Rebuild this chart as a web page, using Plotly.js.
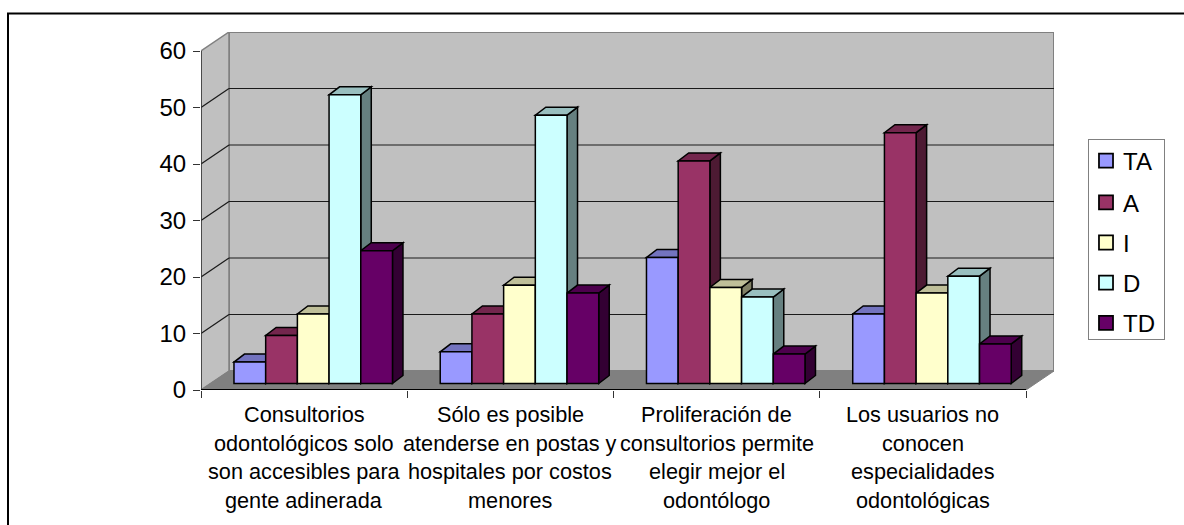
<!DOCTYPE html>
<html>
<head>
<meta charset="utf-8">
<script src="https://cdn.plot.ly/plotly-3.0.1.min.js"></script>
<style>html,body{margin:0;padding:0;background:#fff}#chart{width:1184px;height:525px}</style>
</head>
<body>
<div id="chart"></div>
<script>
// Survey answers per statement, in percent
const categoryLines = [
  ['Consultorios', 'odontológicos solo', 'son accesibles para', 'gente adinerada'],
  ['Sólo es posible', 'atenderse en postas y', 'hospitales por costos', 'menores'],
  ['Proliferación de', 'consultorios permite', 'elegir mejor el', 'odontólogo'],
  ['Los usuarios no', 'conocen', 'especialidades', 'odontológicas']
];
const seriesNames = ['TA', 'A', 'I', 'D', 'TD'];
const valuesTA = [3.8, 5.6, 22.3, 12.3];
const valuesA = [8.5, 12.3, 39.4, 44.4];
const valuesI = [12.3, 17.4, 17, 16];
const valuesD = [51.1, 47.5, 15.3, 19];
const valuesTD = [23.5, 16, 5.2, 7];
const frontColors = ['#9999FF', '#993366', '#FFFFCC', '#CCFFFF', '#660066'];
const topColors = ['#7373BF', '#73264D', '#BFBF99', '#99BFBF', '#4D004D'];
const sideColors = ['#4D4D80', '#4D1A33', '#808066', '#668080', '#330033'];
const allValues = [valuesTA, valuesA, valuesI, valuesD, valuesTD];

// Pixel frame of the plot area; the axes run in category and percent units
const W = 1184, H = 525;
const plotLeft = 201, plotRight = 1054, plotTop = 32, plotBottom = 390;
const catPx = 206.25, unitPx = 5.65;
const xMax = (plotRight - plotLeft) / catPx;
const yMax = (plotBottom - plotTop) / unitPx;
const px2x = p => p / catPx;
const px2y = p => p / unitPx;

// Oblique projection offsets
const wallDx = px2x(28), wallDy = px2y(19);
const barDx = px2x(10.5), barDy = px2y(8);
const barShiftX = px2x(9.1), barBase = px2y(6.5);
const groupWidth = 158.5 / catPx, barWidth = groupWidth / 5;

const poly = (pts, fill, line, lw, layer) => ({
  type: 'path', xref: 'x', yref: 'y', layer: layer || 'below',
  path: 'M' + pts.map(p => p[0] + ',' + p[1]).join('L') + 'Z',
  fillcolor: fill, line: {color: line || 'rgba(0,0,0,0)', width: lw === undefined ? 1 : lw}
});
const seg = (x0, y0, x1, y1, color, width, layer) => ({
  type: 'line', xref: 'x', yref: 'y', layer: layer || 'below',
  x0, y0, x1, y1, line: {color, width}
});

const shapes = [];
// Back wall, side wall and floor
shapes.push(poly([[wallDx, wallDy], [xMax, wallDy], [xMax, 60 + wallDy], [wallDx, 60 + wallDy]], '#C0C0C0', '#808080', 2));
shapes.push(poly([[0, 0], [wallDx, wallDy], [wallDx, 60 + wallDy], [0, 60]], '#C0C0C0', '#808080', 1.5));
shapes.push(poly([[0, 0], [4, 0], [xMax, wallDy], [wallDx, wallDy]], '#808080', '#808080', 1));
// Gridlines bent around the two walls
for (let v = 10; v <= 50; v += 10) {
  shapes.push(seg(wallDx, v + wallDy, xMax, v + wallDy, '#1a1a1a', 1.2));
  shapes.push(seg(0, v, wallDx, v + wallDy, '#1a1a1a', 1.2));
}
// Side and top faces of every column, painted left to right
categoryLines.forEach((_, c) => {
  allValues.forEach((vals, s) => {
    const x0 = c + 0.5 + barShiftX - groupWidth / 2 + s * barWidth;
    const x1 = x0 + barWidth;
    const b = barBase, t = barBase + vals[c];
    shapes.push(poly([[x1, b], [x1 + barDx, b + barDy], [x1 + barDx, t + barDy], [x1, t]], sideColors[s], '#000', 1.5));
    shapes.push(poly([[x0, t], [x1, t], [x1 + barDx, t + barDy], [x0 + barDx, t + barDy]], topColors[s], '#000', 1.5));
  });
});
// Axis lines and the outer frame
shapes.push(seg(0, 0, 0, 60, '#333', 1.5, 'above'));
shapes.push(seg(0, 0, 4, 0, '#000', 2, 'above'));
const pxX = p => (p - plotLeft) / (plotRight - plotLeft);
const pxY = p => (plotBottom - p) / (plotBottom - plotTop);
shapes.push({type: 'line', xref: 'paper', yref: 'paper', x0: pxX(8), x1: pxX(8), y0: pxY(525), y1: pxY(13), line: {color: '#000', width: 2}});
shapes.push({type: 'line', xref: 'paper', yref: 'paper', x0: pxX(7), x1: pxX(1184), y0: pxY(13.5), y1: pxY(13.5), line: {color: '#000', width: 2}});

// Category captions, one annotation per line for the wide leading
const lineY = [414.5, 443, 471.5, 500];
const annotations = [];
categoryLines.forEach((lines, c) => lines.forEach((text, i) => annotations.push({
  text, xref: 'x', x: c + 0.5, yref: 'paper', y: pxY(lineY[i]),
  xanchor: 'center', yanchor: 'middle', showarrow: false,
  font: {family: 'Liberation Sans, Arial, sans-serif', size: 21.7, color: '#000'}
})));

const traces = seriesNames.map((name, s) => ({
  type: 'bar', name,
  x: categoryLines.map((_, c) => c + 0.5 + barShiftX),
  y: allValues[s],
  base: barBase,
  marker: {color: frontColors[s], line: {color: '#000', width: 1.5}},
  legendgroup: name,
  hoverinfo: 'name+y'
}));

const layout = {
  width: W, height: H,
  margin: {l: plotLeft, r: W - plotRight, t: plotTop, b: H - plotBottom, pad: 0},
  paper_bgcolor: '#fff', plot_bgcolor: 'rgba(0,0,0,0)',
  font: {family: 'Liberation Sans, Arial, sans-serif', color: '#000'},
  barmode: 'group', bargap: 1 - groupWidth, bargroupgap: 0,
  xaxis: {
    range: [0, xMax], showgrid: false, zeroline: false, showline: false,
    tickvals: [0, 1, 2, 3, 4], ticktext: ['', '', '', '', ''], ticks: 'outside', ticklen: 7, tickwidth: 1, tickcolor: '#333'
  },
  yaxis: {
    range: [0, yMax], showgrid: false, zeroline: false, showline: false,
    tickvals: [0, 10, 20, 30, 40, 50, 60], ticks: 'outside', ticklen: 7, tickwidth: 1, tickcolor: '#333',
    tickfont: {size: 24, color: '#000'}, ticklabelstandoff: 2
  },
  legend: {
    x: pxX(1088), xanchor: 'left', y: pxY(139), yanchor: 'top',
    bgcolor: '#fff', bordercolor: '#808080', borderwidth: 1,
    font: {size: 24, color: '#000'}, tracegroupgap: 6, traceorder: 'grouped'
  },
  shapes, annotations
};

Plotly.newPlot('chart', traces, layout, {displayModeBar: false, staticPlot: true}).then(gd => {
  // Tighter legend keys: larger square swatches with the names pulled in close
  gd.querySelectorAll('.legend .legendpoints path').forEach(p => {
    p.setAttribute('transform', 'translate(17,0) scale(1.17)');
  });
  gd.querySelectorAll('.legend text.legendtext').forEach(t => {
    t.setAttribute('x', 34);
  });
  const bg = gd.querySelector('.legend rect.bg');
  if (bg) { bg.setAttribute('width', 76); bg.setAttribute('height', 200); }
  const groups = gd.querySelector('.legend .groups');
  if (groups) { groups.setAttribute('transform', 'translate(0,-1.5)'); }
});
</script>
</body>
</html>
